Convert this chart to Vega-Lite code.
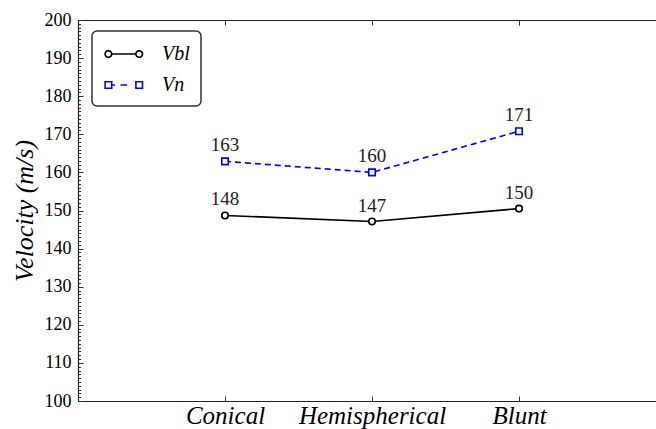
{
  "$schema": "https://vega.github.io/schema/vega-lite/v6.json",
  "width": 578,
  "height": 381,
  "autosize": {"type": "none"},
  "padding": {"left": 78, "top": 20, "right": 0, "bottom": 28},
  "background": "white",
  "config": {"view": {"stroke": null}, "font": "Liberation Serif"},
  "data": {
    "values": [
      {"shape": "Conical", "pos": 1, "series": "V_bl", "velocity": 148.7, "label": "148"},
      {"shape": "Hemispherical", "pos": 2, "series": "V_bl", "velocity": 147.1, "label": "147"},
      {"shape": "Blunt", "pos": 3, "series": "V_bl", "velocity": 150.5, "label": "150"},
      {"shape": "Conical", "pos": 1, "series": "V_n", "velocity": 162.9, "label": "163"},
      {"shape": "Hemispherical", "pos": 2, "series": "V_n", "velocity": 160.0, "label": "160"},
      {"shape": "Blunt", "pos": 3, "series": "V_n", "velocity": 170.8, "label": "171"}
    ]
  },
  "resolve": {"axis": {"x": "independent"}},
  "layer": [
    {
      "transform": [{"filter": "datum.series === 'V_bl'"}],
      "mark": {"type": "line", "strokeWidth": 1.6},
      "encoding": {
        "x": {
          "field": "pos", "type": "quantitative",
          "scale": {"domain": [0, 3.932], "nice": false, "zero": false},
          "axis": {
            "orient": "bottom", "title": null, "values": [1, 2, 3],
            "labelExpr": "datum.value == 1 ? 'Conical' : datum.value == 2 ? 'Hemispherical' : 'Blunt'",
            "labelFont": "Liberation Serif", "labelFontStyle": "italic", "labelFlush": false,
            "labelFontSize": 25, "labelColor": "#000", "labelAngle": 0, "tickSize": -5, "tickColor": "#333",
            "tickWidth": 1, "domainColor": "#222", "domainWidth": 1.2, "labelPadding": 7, "grid": false
          }
        },
        "y": {
          "field": "velocity", "type": "quantitative",
          "scale": {"domain": [100, 200], "nice": false, "zero": false},
          "axis": {
            "title": "Velocity (m/s)", "titleFont": "Liberation Serif", "titleFontStyle": "italic",
            "titleFontWeight": "normal", "titleFontSize": 26, "titleColor": "#000", "titlePadding": 7,
            "tickCount": 100, "labelExpr": "datum.value % 10 === 0 ? datum.label : ''", "labelOverlap": false,
            "labelFontSize": 18, "labelColor": "#000", "labelFont": "Liberation Serif",
            "tickSize": {"condition": {"test": "datum.value % 10 === 0", "value": -5}, "value": -2.5},
            "tickColor": "#333", "tickWidth": 1,
            "labelPadding": 12, "domainColor": "#222", "domainWidth": 1.2, "grid": false
          }
        },
        "color": {
          "field": "series", "type": "nominal",
          "scale": {"domain": ["V_bl", "V_n"], "range": ["#000000", "#0000ff"]},
          "legend": {
            "title": null, "orient": "none", "legendX": 14, "legendY": 11, "padding": 11,
            "fillColor": "white", "strokeColor": "#333", "cornerRadius": 5,
            "labelFont": "Liberation Serif", "labelFontStyle": "italic", "labelFontSize": 20, "labelColor": "#000",
            "labelExpr": "datum.value === 'V_bl' ? 'Vbl' : 'Vn'",
            "symbolSize": 484, "labelOffset": 35, "rowPadding": 9, "symbolDash": [1, 0],
            "encode": {
              "legend": {"update": {"strokeWidth": {"value": 1.5}}},
              "symbols": {
                "update": {
                  "shape": {"signal": "datum.value === 'V_bl' ? 'M-0.3,0 L1.9,0 M-0.9,0 a0.3,0.3 0 1,0 0.6,0 a0.3,0.3 0 1,0 -0.6,0 M1.9,0 a0.3,0.3 0 1,0 0.6,0 a0.3,0.3 0 1,0 -0.6,0' : 'M-0.3,0 L0,0 M0.5,0 L1.1,0 M-0.9,-0.3 h0.6 v0.6 h-0.6 z M1.9,-0.3 h0.6 v0.6 h-0.6 z'"},
                  "size": {"value": 484},
                  "fill": {"value": "white"},
                  "fillOpacity": {"value": 1},
                  "strokeDash": {"value": [1, 0]},
                  "strokeWidth": {"value": 1.6}
                }
              }
            }
          }
        }
      }
    },
    {
      "transform": [{"filter": "datum.series === 'V_n'"}],
      "mark": {"type": "line", "strokeWidth": 1.6, "strokeDash": [6, 4]},
      "encoding": {
        "x": {"field": "pos", "type": "quantitative", "axis": null},
        "y": {"field": "velocity", "type": "quantitative"},
        "color": {"field": "series", "type": "nominal"}
      }
    },
    {
      "transform": [{"filter": "datum.series === 'V_bl'"}],
      "mark": {"type": "point", "shape": "circle", "filled": false, "fill": "white", "fillOpacity": 1, "strokeWidth": 1.6, "size": 42, "opacity": 1, "color": "#000000"},
      "encoding": {
        "x": {"field": "pos", "type": "quantitative", "axis": null},
        "y": {"field": "velocity", "type": "quantitative"}
      }
    },
    {
      "transform": [{"filter": "datum.series === 'V_n'"}],
      "mark": {"type": "point", "shape": "square", "filled": false, "fill": "white", "fillOpacity": 1, "strokeWidth": 1.6, "size": 42, "opacity": 1, "color": "#0000ff"},
      "encoding": {
        "x": {"field": "pos", "type": "quantitative", "axis": null},
        "y": {"field": "velocity", "type": "quantitative"}
      }
    },
    {
      "mark": {"type": "text", "baseline": "bottom", "dy": -6, "fontSize": 19, "font": "Liberation Serif", "fill": "#222"},
      "encoding": {
        "x": {
          "field": "pos", "type": "quantitative",
          "axis": {"orient": "top", "labels": false, "title": null, "values": [1, 2, 3], "tickSize": -5, "tickColor": "#333", "tickWidth": 1, "domainColor": "#222", "domainWidth": 1.2, "grid": false}
        },
        "y": {"field": "velocity", "type": "quantitative"},
        "text": {"field": "label", "type": "nominal"}
      }
    }
  ]
}
